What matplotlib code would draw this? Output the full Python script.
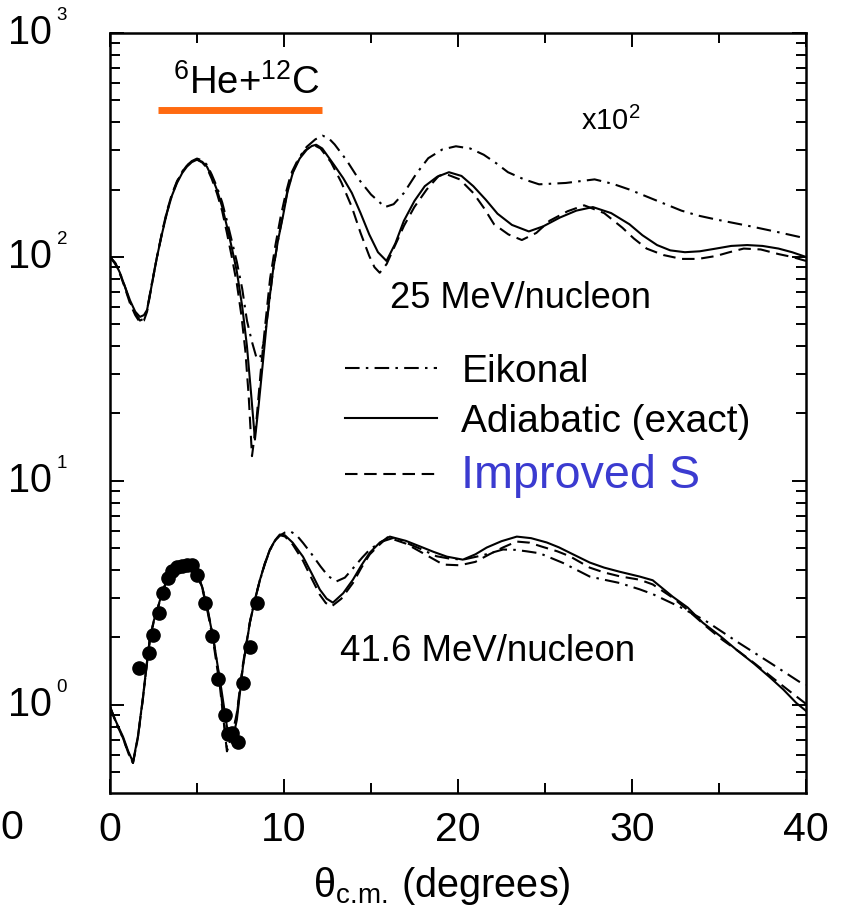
import numpy as np
import matplotlib
matplotlib.use("Agg")
from matplotlib import pyplot as plt
from matplotlib import transforms
from matplotlib.ticker import LogLocator, NullFormatter, MultipleLocator

plt.rcParams['font.family'] = ['Liberation Sans', 'DejaVu Sans']
plt.rcParams['mathtext.fontset'] = 'custom'
plt.rcParams['mathtext.rm'] = 'Liberation Sans'
plt.rcParams['mathtext.it'] = 'Liberation Sans:italic'
plt.rcParams['mathtext.bf'] = 'Liberation Sans:bold'

# 25 MeV/nucleon (scaled x10^2)
up_solid_x = [0, 0.3, 0.57, 0.85, 1.15, 1.45, 1.72, 1.95, 2.13, 2.4, 2.70, 3.0, 3.27, 3.55,
              3.85, 4.15, 4.42, 4.7, 5.0, 5.3, 5.57, 5.85, 6.15, 6.45, 6.72, 7.0, 7.29, 7.6,
              7.87, 8.1, 8.33, 8.55, 8.79, 9.05, 9.36, 9.65, 9.94, 10.2, 10.51, 10.9, 11.32,
              11.6, 11.85, 12.2, 12.9, 13.4, 13.9, 14.4, 14.9, 15.4, 15.89, 16.4, 16.89, 17.5,
              18.09, 18.8, 19.48, 20.2, 20.88, 21.6, 22.27, 23.1, 24.07, 24.9, 25.86, 26.8,
              27.75, 28.8, 29.85, 30.6, 31.44, 32.2, 33.04, 33.9, 34.83, 35.7, 36.62, 37.5,
              38.42, 39.2, 40]
up_solid_y = [100, 94, 85, 74, 64, 57, 54, 55, 58, 75, 100, 128, 157, 187,
              214, 237, 253, 265, 272, 266, 253, 228, 199, 167, 137, 110, 86, 60,
              40, 25, 15.3, 22, 34, 55, 86, 118, 152, 195, 238, 275, 302,
              313, 317, 305, 256, 225, 193, 157, 126, 105, 96, 115, 145, 178,
              207, 228, 239, 230, 207, 180, 156, 139, 130, 137, 150, 161,
              167, 157, 140, 125, 113, 107, 105, 106, 109, 112, 113, 112,
              109, 105, 100]

up_dash_x = [0, 0.3, 0.57, 0.85, 1.15, 1.45, 1.72, 1.95, 2.13, 2.4, 2.70, 3.0, 3.27, 3.55,
             3.85, 4.15, 4.42, 4.7, 5.0, 5.3, 5.57, 5.85, 6.15, 6.45, 6.72, 7.0, 7.29, 7.55,
             7.78, 7.97, 8.16, 8.4, 8.65, 8.9, 9.2, 9.5, 9.8, 10.1, 10.4, 10.8, 11.2, 11.5,
             11.75, 12.1, 12.7, 13.3, 13.9, 14.4, 14.9, 15.2, 15.5, 15.9, 16.3, 16.9, 17.49,
             18.2, 18.89, 19.28, 20.1, 20.88, 21.5, 22.07, 22.9, 23.67, 24.5, 25.26, 26.3,
             27.25, 28.4, 29.45, 30.1, 30.84, 31.8, 32.84, 33.8, 34.83, 35.6, 36.42, 37.4,
             38.42, 39.2, 40]
up_dash_y = [100, 93, 84, 73, 62, 55, 51, 52, 57, 75, 100, 130, 160, 190,
             218, 240, 256, 266, 272, 264, 250, 223, 192, 160, 128, 100, 76, 55,
             38, 24, 12.9, 18, 30, 48, 80, 112, 150, 192, 235, 272, 298, 310,
             315, 305, 265, 215, 167, 128, 101, 90, 85, 93, 109, 138, 167,
             200, 230, 235, 222, 193, 165, 140, 126, 119, 128, 145, 160,
             170, 157, 135, 121, 109, 102, 98, 98, 101, 105, 109, 108,
             103, 100, 96]

up_eik_x = [0, 0.3, 0.57, 0.85, 1.15, 1.45, 1.72, 1.95, 2.13, 2.4, 2.70, 3.0, 3.27, 3.55,
            3.85, 4.15, 4.42, 4.7, 5.0, 5.3, 5.57, 5.85, 6.15, 6.45, 6.72, 7.0, 7.29, 7.6,
            7.87, 8.15, 8.44, 8.65, 8.85, 9.1, 9.36, 9.65, 9.94, 10.2, 10.51, 10.9, 11.3,
            11.8, 12.21, 12.55, 12.91, 13.6, 14.30, 15.0, 15.80, 16.3, 16.89, 17.6, 18.29,
            19.1, 19.88, 20.7, 21.48, 22.2, 22.87, 23.8, 24.66, 26.2, 27.85, 28.9, 29.85,
            31.3, 32.84, 33.8, 34.83, 36.82, 38.4, 40]
up_eik_y = [100, 94, 85, 74, 63, 56, 52, 53, 58, 76, 100, 129, 158, 188,
            216, 240, 256, 268, 275, 270, 258, 233, 205, 175, 145, 118, 95, 72,
            52, 42, 35, 36, 42, 58, 86, 118, 155, 198, 240, 280, 310,
            335, 348, 340, 318, 270, 222, 190, 167, 172, 193, 235, 276,
            302, 312, 305, 286, 262, 239, 222, 211, 214, 222, 212, 200,
            180, 161, 153, 147, 137, 129, 121]

# 41.6 MeV/nucleon
lo_solid_x = [0, 0.35, 0.75, 1.05, 1.32, 1.6, 1.90, 2.1, 2.30, 2.52, 2.76, 3.0, 3.27, 3.55,
              3.85, 4.14, 4.42, 4.7, 5.0, 5.3, 5.57, 5.92, 6.32, 6.72, 7.01, 7.29, 7.64, 8.04,
              8.33, 8.62, 8.9, 9.19, 9.5, 9.76, 10.05, 10.5, 11.09, 11.6, 12.06, 12.45, 12.81,
              13.4, 13.96, 14.45, 14.93, 15.5, 16.08, 17.0, 17.81, 18.6, 19.36, 20.28, 21.0,
              21.65, 22.5, 23.38, 24.2, 25.10, 25.8, 26.42, 27.57, 28.4, 29.29, 30.44, 31.19,
              32.34, 33.2, 34.06, 35.1, 36.01, 37.0, 37.91, 38.7, 39.44, 40]
lo_solid_y = [0.98, 0.84, 0.72, 0.62, 0.556, 0.72, 1.09, 1.5, 2.01, 2.38, 2.74, 3.18, 3.62, 3.92,
              4.14, 4.26, 4.32, 4.15, 3.89, 3.35, 2.74, 2.01, 1.29, 0.80, 0.676, 0.857, 1.48, 2.33,
              2.95, 3.62, 4.28, 4.94, 5.45, 5.76, 5.72, 5.3, 4.59, 3.85, 3.27, 2.98, 2.86,
              3.15, 3.62, 4.2, 4.78, 5.3, 5.64, 5.4, 5.10, 4.82, 4.59, 4.45, 4.7,
              5.04, 5.38, 5.64, 5.55, 5.31, 5.05, 4.78, 4.32, 4.1, 3.93, 3.74, 3.6,
              3.04, 2.72, 2.33, 2.02, 1.76, 1.53, 1.33, 1.17, 1.02, 0.94]

lo_dash_x = [0, 0.35, 0.75, 1.05, 1.32, 1.6, 1.90, 2.1, 2.30, 2.52, 2.76, 3.0, 3.27, 3.55,
             3.85, 4.14, 4.42, 4.7, 5.0, 5.3, 5.57, 5.92, 6.32, 6.72, 7.01, 7.29, 7.64, 8.04,
             8.33, 8.62, 8.9, 9.19, 9.5, 9.76, 10.05, 10.5, 11.09, 11.6, 12.06, 12.4, 12.73,
             13.3, 13.96, 14.45, 14.93, 15.5, 15.95, 17.0, 18.0, 19.15, 20.1, 21.0, 21.8,
             22.6, 23.36, 24.1, 24.81, 25.7, 26.42, 27.57, 28.4, 29.29, 30.44, 31.19, 32.34,
             33.2, 34.29, 35.2, 36.19, 37.1, 38.08, 39.0, 40]
lo_dash_y = [0.98, 0.83, 0.71, 0.61, 0.55, 0.71, 1.08, 1.48, 1.98, 2.36, 2.72, 3.16, 3.6, 3.9,
             4.12, 4.24, 4.28, 4.12, 3.85, 3.3, 2.7, 1.95, 1.2, 0.62, 0.72, 0.92, 1.52, 2.35,
             2.97, 3.62, 4.28, 4.92, 5.44, 5.72, 5.65, 5.2, 4.4, 3.65, 3.1, 2.85, 2.75,
             2.98, 3.5, 4.1, 4.7, 5.2, 5.6, 5.25, 4.75, 4.23, 4.2, 4.35, 4.7,
             5.05, 5.36, 5.3, 5.09, 4.85, 4.61, 4.10, 3.9, 3.75, 3.62, 3.45, 3.01,
             2.65, 2.23, 1.95, 1.72, 1.52, 1.32, 1.16, 1.01]

lo_eik_x = [0, 0.35, 0.75, 1.05, 1.32, 1.6, 1.90, 2.1, 2.30, 2.52, 2.76, 3.0, 3.27, 3.55,
            3.85, 4.14, 4.42, 4.7, 5.0, 5.3, 5.57, 5.92, 6.32, 6.72, 7.01, 7.29, 7.64, 8.04,
            8.33, 8.62, 8.9, 9.19, 9.5, 9.76, 10.05, 10.34, 10.7, 11.1, 11.6, 12.1, 12.55,
            13.02, 13.5, 14.0, 14.5, 14.93, 15.6, 16.27, 17.0, 17.9, 18.76, 19.5, 20.29,
            21.4, 22.59, 23.3, 23.93, 24.7, 26.04, 27.57, 28.4, 29.29, 30.44, 31.2, 32.74,
            34.2, 36.1, 38.0, 39.6, 40]
lo_eik_y = [0.98, 0.83, 0.71, 0.61, 0.55, 0.71, 1.08, 1.48, 1.98, 2.36, 2.72, 3.16, 3.6, 3.9,
            4.12, 4.26, 4.3, 4.15, 3.9, 3.35, 2.78, 2.02, 1.25, 0.64, 0.72, 0.9, 1.5, 2.33,
            2.95, 3.6, 4.25, 4.9, 5.42, 5.7, 5.88, 5.96, 5.75, 5.28, 4.7, 4.15, 3.75,
            3.56, 3.7, 4.1, 4.55, 4.94, 5.35, 5.56, 5.3, 4.95, 4.61, 4.5, 4.45,
            4.65, 4.94, 4.92, 4.85, 4.75, 4.30, 3.74, 3.62, 3.5, 3.28, 3.12, 2.74,
            2.38, 1.9, 1.53, 1.27, 1.23]

# measured data, 41.6 MeV/nucleon
dat_x = [1.68, 2.26, 2.49, 2.83, 3.06, 3.35, 3.54, 3.83, 4.12, 4.41, 4.69, 4.98, 5.46,
         5.84, 6.22, 6.61, 6.80, 6.99, 7.37, 7.66, 8.04, 8.43]
dat_y = [1.46, 1.70, 2.05, 2.57, 3.17, 3.68, 3.94, 4.12, 4.18, 4.22, 4.22, 3.81, 2.84,
         2.02, 1.30, 0.90, 0.74, 0.747, 0.686, 1.25, 1.82, 2.84]

x_ticks = [0, 10, 20, 30, 40]
y_exps = [0, 1, 2, 3]

W, H = 844, 911
fig = plt.figure(figsize=(W / 100, H / 100), dpi=100)
ax = fig.add_axes([110 / W, 1 - 793 / H, 696 / W, 760 / H])

lw = 1.5
dd = (7, 3, 1.2, 3)
ds = (6, 3.2)
ax.plot(up_eik_x, up_eik_y, color='black', lw=lw, dashes=dd, label='Eikonal')
ax.plot(up_solid_x, up_solid_y, color='black', lw=lw, label='Adiabatic (exact)')
ax.plot(up_dash_x, up_dash_y, color='black', lw=lw, dashes=ds, label='Improved S')
ax.plot(lo_eik_x, lo_eik_y, color='black', lw=lw, dashes=dd)
ax.plot(lo_solid_x, lo_solid_y, color='black', lw=lw)
ax.plot(lo_dash_x, lo_dash_y, color='black', lw=lw, dashes=ds)
ax.plot(dat_x, dat_y, 'o', color='black', ms=9.5)

ax.set_yscale('log')
ax.set_xlim(0, 40)
ax.set_ylim(0.404, 1000)

ax.xaxis.set_minor_locator(MultipleLocator(5))
ax.yaxis.set_major_locator(LogLocator(base=10))
ax.yaxis.set_minor_locator(LogLocator(base=10, subs=np.arange(2, 10)))
ax.yaxis.set_major_formatter(NullFormatter())
ax.yaxis.set_minor_formatter(NullFormatter())
ax.set_xticks(x_ticks)
ax.set_xticklabels([str(t) for t in x_ticks])
ax.tick_params(which='both', direction='in', top=True, right=True, width=1.4, color='black')
ax.tick_params(which='major', length=10)
ax.tick_params(which='minor', length=7)
ax.tick_params(axis='x', labelsize=29.5, pad=13)
for s in ax.spines.values():
    s.set_linewidth(1.8)

# y tick labels 10^n
tr = transforms.blended_transform_factory(ax.transAxes, ax.transData)
for e in y_exps:
    ax.text(-0.0833, 10.0 ** e, '10', transform=tr, ha='right', va='center',
            fontsize=28.5, clip_on=False)
    ax.annotate(str(e), xy=(-0.0833, 10.0 ** e), xycoords=tr, xytext=(3.4, 12.5),
                textcoords='offset points', ha='left', va='center', fontsize=13.5,
                annotation_clip=False)

fig.text(0, 1 - 828 / H, '0', ha='left', va='center', fontsize=29.5)

ax.set_xlabel(r'$\mathrm{\theta}_{\mathrm{c.\!m.\!}}$ (degrees)', fontsize=28.5)
ax.xaxis.set_label_coords((441.5 - 110) / 696, (793 - 886) / 760)
ax.xaxis.label.set_va('center')

# annotations
ax.text(7.87, 536, r'$^{6}$He+$^{12}$C', fontsize=27.5, ha='center', va='baseline')
ax.plot([2.76, 12.21], [452, 452], color='#ff6a10', lw=5, solid_capstyle='butt')
ax.text(27.05, 367, r'x10$^{2}$', fontsize=21, ha='left', va='baseline')
ax.text(16.08, 59.3, '25 MeV/nucleon', fontsize=26, ha='left', va='baseline')
ax.text(13.2, 1.574, '41.6 MeV/nucleon', fontsize=26.4, ha='left', va='baseline')

leg = ax.legend(loc='upper left', bbox_to_anchor=((345 - 110) / 696, 0.578), frameon=False,
                fontsize=28, handlelength=2.37, handletextpad=0.62, labelspacing=0.36,
                borderpad=0, borderaxespad=0)
for h in leg.get_lines():
    h.set_linewidth(1.5)
txt = leg.get_texts()
txt[2].set_color('#3b3bd0')
txt[2].set_fontsize(33.7)

fig.savefig('out.png', dpi=100)
